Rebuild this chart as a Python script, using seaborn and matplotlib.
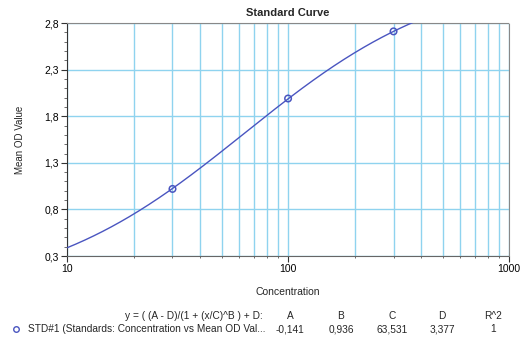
import numpy as np
import pandas as pd
import matplotlib
matplotlib.use("Agg")
import matplotlib.pyplot as plt
import seaborn as sns
from matplotlib.ticker import FuncFormatter, FixedLocator, LogLocator, NullFormatter
from matplotlib.lines import Line2D

# Data
concentration = [30, 100, 300]
mean_od = [1.02, 1.99, 2.71]
param_names = ["A", "B", "C", "D", "R^2"]
param_values = [-0.141, 0.936, 63.531, 3.377, 1]
param_labels = ["-0,141", "0,936", "63,531", "3,377", "1"]
y_ticks = [0.3, 0.8, 1.3, 1.8, 2.3, 2.8]
x_ticks = [10, 100, 1000]

A, B, C, D = param_values[:4]

sns.set_theme(style="white")
plt.rcParams['font.family'] = ['Liberation Sans', 'DejaVu Sans']

fig = plt.figure(figsize=(5.32, 3.46), dpi=100)
ax = fig.add_axes([0.126, 0.260, 0.831, 0.6735])

col = "#4a55c0"
grid_col = "#8fd3ef"

xs = np.logspace(1, 3, 400)
fit = pd.DataFrame({"x": xs, "y": (A - D) / (1 + (xs / C) ** B) + D})
pts = pd.DataFrame({"x": concentration, "y": mean_od})

ax.set_xscale("log")
ax.set_xlim(10, 1000)
ax.set_ylim(0.3, 2.8)

# grid
ax.xaxis.set_major_locator(FixedLocator(x_ticks))
ax.xaxis.set_minor_locator(LogLocator(base=10, subs=np.arange(2, 10)))
ax.xaxis.set_minor_formatter(NullFormatter())
ax.yaxis.set_major_locator(FixedLocator(y_ticks))
ax.yaxis.set_minor_locator(FixedLocator(np.arange(0.3, 2.81, 0.1)))
ax.grid(True, which="major", axis="both", color=grid_col, lw=1.0, zorder=0)
ax.grid(True, which="minor", axis="x", color=grid_col, lw=1.0, zorder=0)

sns.lineplot(data=fit, x="x", y="y", ax=ax, color=col, lw=1.0, zorder=3)
sns.scatterplot(data=pts, x="x", y="y", ax=ax, marker="o", s=22,
                facecolor="none", edgecolor=col, linewidth=1.1, zorder=4)

fmt = FuncFormatter(lambda v, p: (f"{v:.1f}").replace(".", ","))
ax.yaxis.set_major_formatter(fmt)
ax.xaxis.set_major_formatter(FuncFormatter(lambda v, p: f"{int(v)}"))

ax.tick_params(axis="both", which="major", direction="out", length=4, width=0.8,
               labelsize=7.5, colors="#333333", bottom=True, left=True, pad=2)
ax.tick_params(axis="y", which="minor", direction="out", length=2, width=0.6,
               left=True, colors="#555555")
ax.tick_params(axis="x", which="minor", direction="out", length=1.5, width=0.6,
               bottom=True, colors="#555555")
for lab in ax.get_xticklabels() + ax.get_yticklabels():
    lab.set_color("black")

for s in ax.spines.values():
    s.set_color("#888888")
    s.set_linewidth(0.8)
    s.set_linestyle((0, (1, 1)))
ax.spines["left"].set_linestyle("-")
ax.spines["left"].set_color("#333333")
ax.spines["bottom"].set_color("#666666")

ax.set_title("Standard Curve", fontsize=8, fontweight="bold", pad=5)
ax.set_xlabel("Concentration", fontsize=7.5, labelpad=9)
ax.set_ylabel("Mean OD Value", fontsize=7, labelpad=14)

# Legend table
fs = 7.25
y1 = 1 - 316 / 346
y2 = 1 - 329 / 346
fig.text(263 / 532, y1, "y = ( (A - D)/(1 + (x/C)^B ) + D:", ha="right",
         va="center", fontsize=fs)
xpos = [290, 341, 392, 442, 493]
for xp, n, v in zip(xpos, param_names, param_labels):
    fig.text(xp / 532, y1, n, ha="center", va="center", fontsize=fs)
    fig.text(xp / 532, y2, v, ha="center", va="center", fontsize=fs)
fig.add_artist(Line2D([16 / 532], [y2], marker="o", markersize=4,
                      markerfacecolor="none", markeredgecolor=col, mew=1.0,
                      transform=fig.transFigure))
fig.text(28 / 532, y2, "STD#1 (Standards: Concentration vs Mean OD Val...",
         ha="left", va="center", fontsize=fs)

fig.savefig("out.png", dpi=100)
